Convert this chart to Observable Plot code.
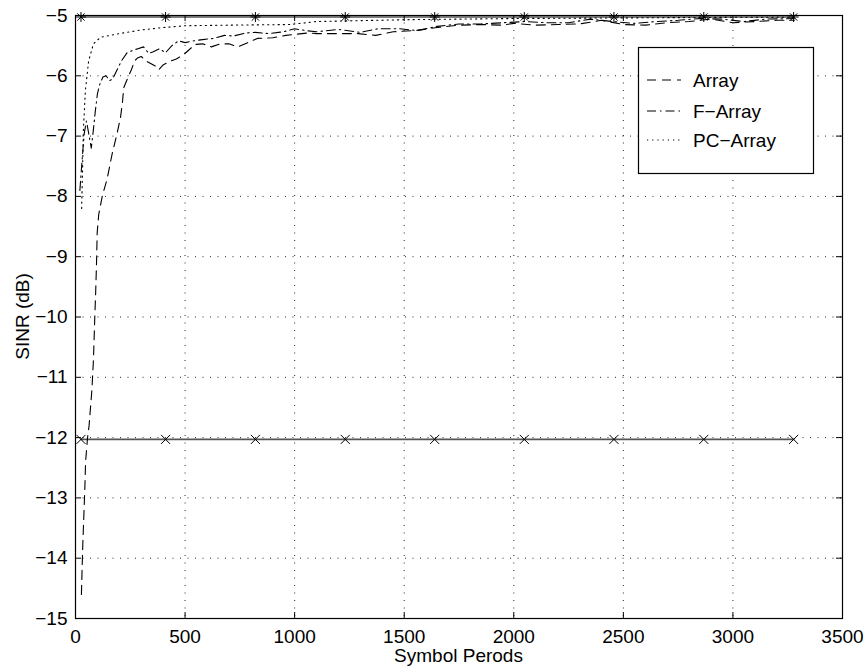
<!DOCTYPE html>
<html><head><meta charset="utf-8">
<script src="https://cdn.jsdelivr.net/npm/d3@7"></script>
<script src="https://cdn.jsdelivr.net/npm/@observablehq/plot@0.6"></script>
<style>html,body{margin:0;padding:0;background:#fff;}</style>
</head><body><div id="chart"></div>
<script>
// ---- data ----
const xTicks = [0, 500, 1000, 1500, 2000, 2500, 3000, 3500];
const yTicks = [-15, -14, -13, -12, -11, -10, -9, -8, -7, -6, -5];

const arrayX = [27, 33, 38, 43, 46, 55, 62, 75, 82, 88, 92, 96, 99, 106, 122, 145, 167, 190, 205, 214, 220, 240, 255, 270, 285, 300, 320, 345, 365, 380, 400, 430, 460, 490, 515, 545, 580, 620, 660, 700, 740, 780, 830, 900, 960, 1060, 1100, 1180, 1290, 1370, 1450, 1550, 1650, 1750, 1850, 1950, 2000, 2100, 2200, 2300, 2400, 2500, 2600, 2700, 2800, 2900, 3000, 3100, 3200, 3280];
const arrayY = [-14.6, -13.8, -13.3, -12.8, -12.4, -12.0, -11.8, -11.2, -10.7, -10.0, -9.6, -9.1, -8.6, -8.3, -8.0, -7.7, -7.3, -6.95, -6.7, -6.45, -6.2, -6.02, -5.9, -5.75, -5.7, -5.68, -5.75, -5.8, -5.84, -5.9, -5.82, -5.76, -5.72, -5.66, -5.58, -5.48, -5.47, -5.52, -5.47, -5.47, -5.52, -5.46, -5.38, -5.37, -5.33, -5.29, -5.3, -5.3, -5.3, -5.33, -5.27, -5.25, -5.2, -5.16, -5.15, -5.16, -5.13, -5.16, -5.15, -5.14, -5.08, -5.15, -5.16, -5.12, -5.1, -5.06, -5.12, -5.1, -5.08, -5.08];

const fArrayX = [20, 30, 40, 50, 60, 72, 80, 90, 100, 110, 125, 140, 155, 170, 190, 210, 235, 260, 285, 310, 335, 355, 385, 410, 440, 470, 500, 540, 580, 630, 680, 720, 780, 820, 880, 950, 1000, 1050, 1100, 1200, 1300, 1380, 1480, 1560, 1650, 1750, 1850, 1950, 2050, 2150, 2250, 2350, 2450, 2550, 2650, 2750, 2850, 2950, 3050, 3150, 3280];
const fArrayY = [-7.9, -7.4, -6.95, -6.75, -6.95, -7.2, -6.95, -6.6, -6.3, -6.15, -6.02, -6.0, -6.08, -6.05, -5.9, -5.75, -5.62, -5.58, -5.55, -5.52, -5.63, -5.6, -5.55, -5.62, -5.5, -5.42, -5.45, -5.42, -5.4, -5.38, -5.33, -5.34, -5.29, -5.28, -5.3, -5.27, -5.22, -5.25, -5.27, -5.23, -5.28, -5.22, -5.22, -5.25, -5.18, -5.14, -5.14, -5.12, -5.1, -5.12, -5.12, -5.06, -5.1, -5.13, -5.1, -5.08, -5.05, -5.06, -5.1, -5.06, -5.05];

const pcX = [28, 32, 36, 45, 60, 82, 115, 200, 300, 400, 500, 700, 980, 1100, 1500, 2000, 2500, 3000, 3280];
const pcY = [-8.2, -7.6, -6.9, -6.25, -5.75, -5.47, -5.36, -5.3, -5.24, -5.2, -5.17, -5.16, -5.15, -5.1, -5.07, -5.05, -5.04, -5.03, -5.03];

const markerX = [25, 411, 821, 1231, 1639, 2048, 2457, 2867, 3277];
const upperLevel = -5.025;   // solid line with * markers
const lowerLevel = -12.03;   // solid line with x markers

const seriesNames = ["Array", "F\u2212Array", "PC\u2212Array"];

// ---- build tables ----
const arrayData = arrayX.map((x, i) => ({x, y: arrayY[i]}));
const fArrayData = fArrayX.map((x, i) => ({x, y: fArrayY[i]}));
const pcData = pcX.map((x, i) => ({x, y: pcY[i]}));
const upperData = markerX.map(x => ({x, y: upperLevel}));
const lowerData = markerX.map(x => ({x, y: lowerLevel}));

const W = 866, H = 668, mL = 75, mR = 24, mT = 15, mB = 50;
const plotH = H - mT - mB, plotW = W - mL - mR;
const FONT = "'Liberation Sans', Arial, Helvetica, sans-serif";
const DASH = "9,6", DASHDOT = "9,4,1.5,4", DOT = "1.2,4";
const fmtNum = d => (d < 0 ? "\u2212" : "") + String(Math.abs(d));

const chart = Plot.plot({
  width: W, height: H,
  marginLeft: mL, marginRight: mR, marginTop: mT, marginBottom: mB,
  style: {fontFamily: FONT, fontSize: "19px", background: "#fff", color: "#000", overflow: "visible"},
  x: {domain: [0, 3500], ticks: xTicks},
  y: {domain: [-15, -5], ticks: yTicks},
  marks: [
    Plot.gridX(xTicks.slice(1, -1), {stroke: "#000", strokeOpacity: 0.85, strokeDasharray: "1,6.5"}),
    Plot.gridY(yTicks.slice(1, -1), {stroke: "#000", strokeOpacity: 0.85, strokeDasharray: "1,6.5"}),
    Plot.line(lowerData, {x: "x", y: "y", stroke: "#555", strokeWidth: 1.6}),
    Plot.line(upperData, {x: "x", y: "y", stroke: "#555", strokeWidth: 1.6}),
    Plot.line(pcData, {x: "x", y: "y", stroke: "#000", strokeWidth: 1.1, strokeDasharray: DOT}),
    Plot.line(fArrayData, {x: "x", y: "y", stroke: "#000", strokeWidth: 1.1, strokeDasharray: DASHDOT}),
    Plot.line(arrayData, {x: "x", y: "y", stroke: "#000", strokeWidth: 1.1, strokeDasharray: DASH}),
    Plot.dot(lowerData, {x: "x", y: "y", symbol: "times", r: 4.2, stroke: "#000", strokeWidth: 1}),
    Plot.dot(upperData, {x: "x", y: "y", symbol: "plus", r: 3.3, stroke: "#000", strokeWidth: 1}),
    Plot.dot(upperData, {x: "x", y: "y", symbol: "times", r: 3.4, stroke: "#000", strokeWidth: 1}),
    Plot.frame({stroke: "#000", strokeWidth: 1.2}),
    // inward ticks on all four sides
    Plot.tickX(xTicks, {x: d => d, insetTop: plotH - 6, stroke: "#000"}),
    Plot.tickX(xTicks, {x: d => d, insetBottom: plotH - 6, stroke: "#000"}),
    Plot.tickY(yTicks, {y: d => d, insetRight: plotW - 6, stroke: "#000"}),
    Plot.tickY(yTicks, {y: d => d, insetLeft: plotW - 6, stroke: "#000"}),
    Plot.axisX(xTicks, {tickSize: 0, tickPadding: 11, label: null, fontSize: 19, tickFormat: fmtNum}),
    Plot.axisY(yTicks, {tickSize: 0, tickPadding: 8, label: null, fontSize: 19, tickFormat: fmtNum})
  ]
});
document.getElementById("chart").appendChild(chart);

// axis titles and legend
const svg = d3.select(chart);
svg.append("text").attr("x", mL + plotW / 2).attr("y", 662)
  .attr("text-anchor", "middle").attr("font-family", FONT).attr("font-size", 19).attr("fill", "#000")
  .text("Symbol Perods");
svg.append("text").attr("transform", `translate(29,${mT + plotH / 2}) rotate(-90)`)
  .attr("text-anchor", "middle").attr("font-family", FONT).attr("font-size", 19).attr("fill", "#000")
  .text("SINR (dB)");

const lg = svg.append("g");
lg.append("rect").attr("x", 638.5).attr("y", 47.5).attr("width", 175).attr("height", 126)
  .attr("fill", "#fff").attr("stroke", "#000").attr("stroke-width", 1.2);
const dashes = [DASH, DASHDOT, DOT];
const rowsY = [80, 111, 140];
seriesNames.forEach((name, i) => {
  lg.append("line").attr("x1", 647).attr("x2", 681).attr("y1", rowsY[i]).attr("y2", rowsY[i])
    .attr("stroke", "#000").attr("stroke-width", 1.1).attr("stroke-dasharray", dashes[i]);
  lg.append("text").attr("x", 693).attr("y", rowsY[i] + 7).attr("font-family", FONT)
    .attr("text-anchor", "start").attr("font-size", 19).attr("fill", "#000").text(name);
});
</script>
</body></html>
